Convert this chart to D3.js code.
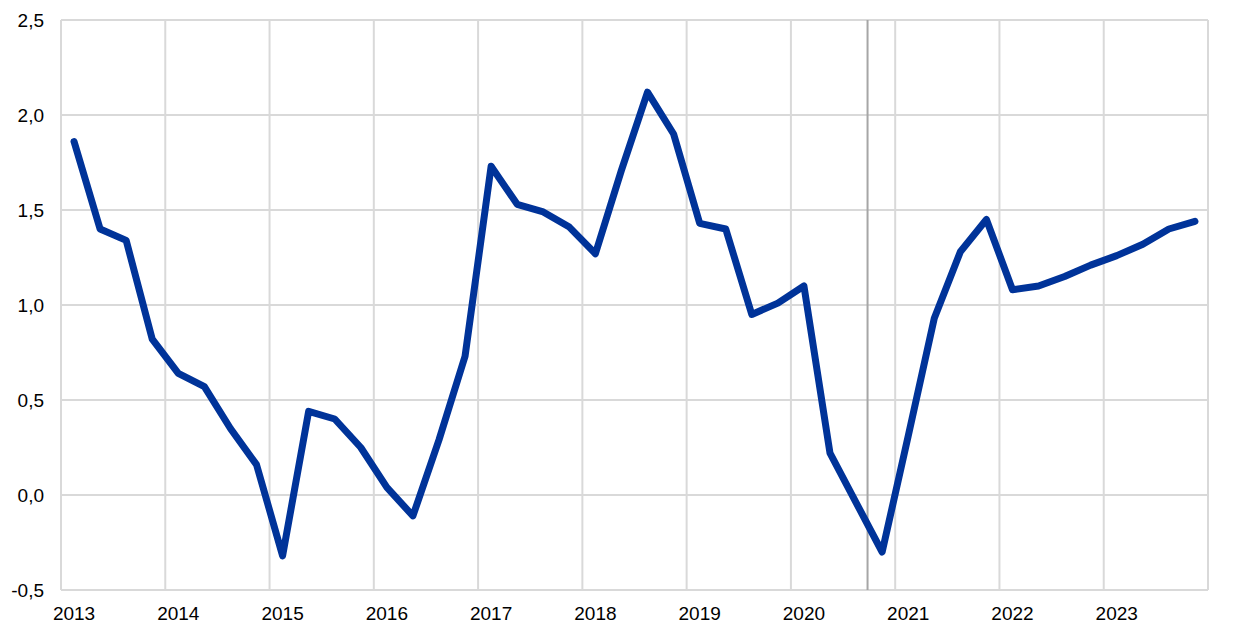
<!DOCTYPE html>
<html><head><meta charset="utf-8">
<script src="https://cdn.jsdelivr.net/npm/d3@7"></script>
<style>body{margin:0;background:#fff}svg{display:block}</style>
</head><body>
<svg id="c" width="1240" height="634"></svg>
<script>
const years = ["2013","2014","2015","2016","2017","2018","2019","2020","2021","2022","2023"];
const quarters = ["Q1","Q2","Q3","Q4"];
const values = [1.86,1.40,1.34,0.82, 0.64,0.57,0.35,0.16, -0.32,0.44,0.40,0.25,
  0.04,-0.11,0.29,0.73, 1.73,1.53,1.49,1.41, 1.27,1.71,2.12,1.90,
  1.43,1.40,0.95,1.01, 1.10,0.22,-0.04,-0.30, 0.31,0.93,1.28,1.45,
  1.08,1.10,1.15,1.21, 1.26,1.32,1.40,1.44];
const yTicks = [-0.5,0,0.5,1,1.5,2,2.5];
const markerPos = 2020.735; // vertical marker (fractional year)

const svg = d3.select("#c");
const L=61, R=1208, T=20, B=590;
const x = d3.scaleLinear().domain([2013, 2024]).range([L, R]);
const y = d3.scaleLinear().domain([-0.5, 2.5]).range([B, T]);
const fmt = v => d3.format(".1f")(v).replace(".", ",").replace("−","-");

const data = values.map((v,i)=>({t: 2013 + (i+0.5)/4, v}));

// gridlines
svg.append("g").selectAll("line").data(yTicks).join("line")
  .attr("x1",L).attr("x2",R).attr("y1",d=>y(d)).attr("y2",d=>y(d))
  .attr("stroke","#d9d9d9").attr("stroke-width",2);
const yrs = d3.range(2013, 2025);
svg.append("g").selectAll("line").data(yrs).join("line")
  .attr("x1",d=>x(d)).attr("x2",d=>x(d)).attr("y1",T).attr("y2",B)
  .attr("stroke","#d9d9d9").attr("stroke-width",2);

// marker line
svg.append("line").attr("x1",x(markerPos)).attr("x2",x(markerPos))
  .attr("y1",T).attr("y2",B).attr("stroke","#a6a6a6").attr("stroke-width",2);

// y labels
svg.append("g").selectAll("text").data(yTicks).join("text")
  .attr("x",44).attr("y",d=>y(d)).attr("dy","0.35em").attr("text-anchor","end")
  .attr("font-family","Liberation Sans, Arial, sans-serif").attr("font-size",19)
  .attr("fill","#000").text(fmt);

// x labels
svg.append("g").selectAll("text").data(years).join("text")
  .attr("x",d=>x(+d + 0.125)).attr("y",620).attr("text-anchor","middle")
  .attr("font-family","Liberation Sans, Arial, sans-serif").attr("font-size",19)
  .attr("fill","#000").text(d=>d);

// line
svg.append("path").datum(data)
  .attr("d", d3.line().x(d=>x(d.t)).y(d=>y(d.v)))
  .attr("fill","none").attr("stroke","#003399").attr("stroke-width",7)
  .attr("stroke-linejoin","round").attr("stroke-linecap","round");
</script>
</body></html>
